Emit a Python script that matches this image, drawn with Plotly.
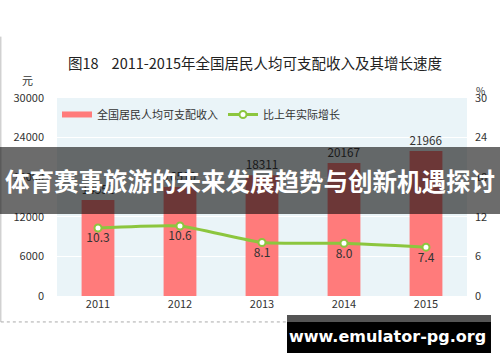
import plotly.graph_objects as go

years = ["2011", "2012", "2013", "2014", "2015"]
income = [14551, 16510, 18311, 20167, 21966]
growth = [10.3, 10.6, 8.1, 8.0, 7.4]
left_ticks = [0, 6000, 12000, 18000, 24000, 30000]
right_ticks = [0, 6, 12, 18, 24, 30]

FONT = "Noto Sans CJK SC, Liberation Sans, sans-serif"
RED = "#ff7b7b"
GREEN = "#8cc63e"

fig = go.Figure()
fig.add_trace(go.Bar(
    x=years, y=income, name="全国居民人均可支配收入", showlegend=False,
    marker=dict(color=RED, line=dict(width=0)), width=0.4,
    text=[str(v) for v in income], textposition="outside",
    textfont=dict(size=12, color="#333333", family=FONT), cliponaxis=False,
))
# legend entry drawn as a wide bar swatch (no data points)
fig.add_trace(go.Scatter(
    x=[None], y=[None], name="全国居民人均可支配收入", mode="lines",
    line=dict(color=RED, width=6), hoverinfo="skip",
))
fig.add_trace(go.Scatter(
    x=years, y=growth, name="比上年实际增长", yaxis="y2", mode="lines+markers+text",
    line=dict(color=GREEN, width=3, shape="spline", smoothing=0.5),
    marker=dict(size=7, color="white", line=dict(color=GREEN, width=2)),
    text=[f"{v:.1f}" for v in growth], textposition="bottom center",
    textfont=dict(size=12, color="#333333", family=FONT), cliponaxis=False,
))

fig.update_layout(
    width=500, height=362,
    margin=dict(l=57, r=33, t=98, b=66),
    paper_bgcolor="white", plot_bgcolor="#eaf4f8",
    font=dict(family=FONT, size=11, color="#333333"),
    showlegend=True,
    legend=dict(orientation="h", x=0.0, y=0.99, xanchor="left", yanchor="top",
                bgcolor="rgba(0,0,0,0)", font=dict(size=11, color="#333333"),
                itemwidth=30, tracegroupgap=0),
    xaxis=dict(showgrid=False, ticks="", showline=False, tickfont=dict(size=11)),
    yaxis=dict(range=[0, 30000], tickvals=left_ticks, tickformat="d", showgrid=True,
               gridcolor="white", gridwidth=1, zeroline=False, ticks="",
               ticklabelstandoff=12, tickfont=dict(size=11)),
    yaxis2=dict(range=[0, 30], tickvals=right_ticks, tickformat="d", overlaying="y",
                side="right", showgrid=False, zeroline=False, ticks="",
                ticklabelstandoff=7, tickfont=dict(size=11)),
)

def note(text, x, y, size, color="#333333", family=FONT):
    fig.add_annotation(text=text, xref="paper", yref="paper", x=x, y=y,
                       xanchor="center", yanchor="middle", showarrow=False,
                       font=dict(size=size, color=color, family=family))

# title and unit labels
note("图18    2011-2015年全国居民人均可支配收入及其增长速度", 0.483, 1.177, 14.5, "#222222")
note("元", -0.071, 1.091, 11)
note("%", 1.032, 1.04, 10)

# frame lines
fig.add_shape(type="line", xref="paper", yref="paper", x0=-0.137, x1=-0.137,
              y0=-0.131, y1=1.31, line=dict(color="#bbbbbb", width=1))
fig.add_shape(type="line", xref="paper", yref="paper", x0=-0.137, x1=0.561,
              y0=-0.131, y1=-0.131, line=dict(color="#aaaaaa", width=1, dash="dot"))

# banner overlay
fig.add_shape(type="rect", xref="paper", yref="paper", x0=-0.14, x1=1.081,
              y0=0.414, y1=0.7525, line=dict(width=0),
              fillcolor="rgba(10,10,10,0.6)", layer="above")
note("<b>体育赛事旅游的未来发展趋势与创新机遇探讨</b>", 0.4707, 0.581, 24.5, "white")

# watermark box
fig.add_shape(type="rect", xref="paper", yref="paper", x0=0.561, x1=1.0585,
              y0=-0.288, y1=-0.096, line=dict(width=0), fillcolor="black", layer="above")
fig.add_shape(type="rect", xref="paper", yref="paper", x0=0.561, x1=1.0585,
              y0=-0.131, y1=-0.096, line=dict(width=0), fillcolor="#555555", layer="above")
note("<b>www.emulator-pg.org</b>", 0.8049, -0.207, 16, "white", "DejaVu Sans, sans-serif")

fig.write_html("out.html", config={"displayModeBar": False},
               post_script="document.body.style.margin='0';")
